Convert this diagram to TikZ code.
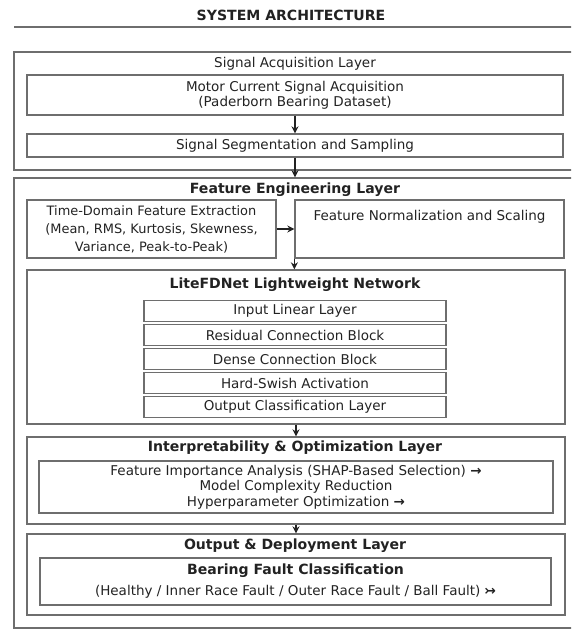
\documentclass[tikz,border=0pt]{standalone}
\usepackage{fontspec}
\setmainfont{DejaVu Sans}
\usetikzlibrary{arrows.meta,positioning}
\definecolor{edge}{HTML}{6E6E6E}
\definecolor{ink}{HTML}{222222}
\newcommand{\bodytext}{\fontsize{9.6}{12}\selectfont}
\newcommand{\headtext}{\fontsize{10}{12}\selectfont\bfseries}

\begin{document}
\begin{tikzpicture}[x=0.025cm,y=-0.025cm,
  frame/.style={draw=edge,line width=0.9pt,inner sep=0pt},
  box/.style={frame,align=center,font=\bodytext,text=ink},
  head/.style={font=\headtext,text=ink},
  flow/.style={-{Stealth[length=5pt,width=5pt]},line width=1.1pt,ink}]
  \useasboundingbox (0,0) rectangle (571,630);
  \clip (0,0) rectangle (571,630);

  % Title
  \node[head] (title) at (291,15) {SYSTEM ARCHITECTURE};
  \draw[edge,line width=0.9pt] (14,27) -- (600,27);

  % Signal acquisition layer
  \node[frame,minimum width=14.4cm,minimum height=2.95cm] (acq) at (302,111) {};
  \node[font=\bodytext,text=ink] (acqtitle) at (295,64) {Signal Acquisition Layer};
  \node[box,minimum width=13.4cm,minimum height=1cm,font=\fontsize{9.6}{10.7}\selectfont] (motor) at (295,95) {Motor Current Signal Acquisition\\(Paderborn Bearing Dataset)};
  \node[box,minimum width=13.4cm,minimum height=0.575cm] (seg) at (295,145.5) {Signal Segmentation and Sampling};
  \draw[flow] (motor) -- (seg);

  % Feature engineering layer
  \node[frame,minimum width=14.4cm,minimum height=11.25cm] (feat) at (302,403) {};
  \draw[flow] (seg) -- (seg.south |- feat.north);
  \node[head] (feattitle) at (295,190) {Feature Engineering Layer};
  \node[box,minimum width=6.225cm,minimum height=1.45cm,font=\fontsize{9.2}{12.8}\selectfont] (time) at (151.5,229) {Time-Domain Feature Extraction\\(Mean, RMS, Kurtosis, Skewness,\\Variance, Peak-to-Peak)};
  \node[frame,minimum width=6.725cm,minimum height=1.45cm,
    label={[anchor=north,font=\bodytext,text=ink,yshift=-4pt]north:Feature Normalization and Scaling}] (norm) at (429.5,229) {};
  \draw[flow] (time) -- (norm);

  % LiteFDNet
  \node[frame,minimum width=13.45cm,minimum height=3.85cm] (net) at (296,347) {};
  \draw[flow] (norm.south west) -- (norm.south west |- net.north);
  \node[head] (nettitle) at (295,285) {LiteFDNet Lightweight Network};
  \node[box,minimum width=7.55cm,minimum height=0.525cm] (input) at (295,311) {Input Linear Layer};
  \node[box,minimum width=7.55cm,minimum height=0.525cm] (resid) at (295,335) {Residual Connection Block};
  \node[box,minimum width=7.55cm,minimum height=0.525cm] (dense) at (295,359) {Dense Connection Block};
  \node[box,minimum width=7.55cm,minimum height=0.525cm] (hswish) at (295,383) {Hard-Swish Activation};
  \node[box,minimum width=7.55cm,minimum height=0.525cm] (outlayer) at (295,407) {Output Classification Layer};

  % Interpretability and optimization
  \node[frame,minimum width=13.45cm,minimum height=2.175cm] (interp) at (296,480.5) {};
  \draw[flow] (net) -- (interp);
  \node[head] (interptitle) at (295,448) {Interpretability \& Optimization Layer};
  \node[box,minimum width=12.85cm,minimum height=1.3cm,font=\fontsize{9.6}{11}\selectfont] (tune) at (296,487) {Feature Importance Analysis (SHAP-Based Selection) {\bfseries →}\\Model Complexity Reduction\\Hyperparameter Optimization {\bfseries →}};

  % Output and deployment
  \node[frame,minimum width=13.45cm,minimum height=2.025cm] (deploy) at (296,574.5) {};
  \draw[flow] (interp) -- (deploy);
  \node[head] (deploytitle) at (295,546) {Output \& Deployment Layer};
  \node[box,minimum width=12.775cm,minimum height=1.175cm] (fault) at (295.5,581.5) {{\headtext Bearing Fault Classification}\\[3pt](Healthy / Inner Race Fault / Outer Race Fault / Ball Fault) {\bfseries ↣}};
\end{tikzpicture}
\end{document}
